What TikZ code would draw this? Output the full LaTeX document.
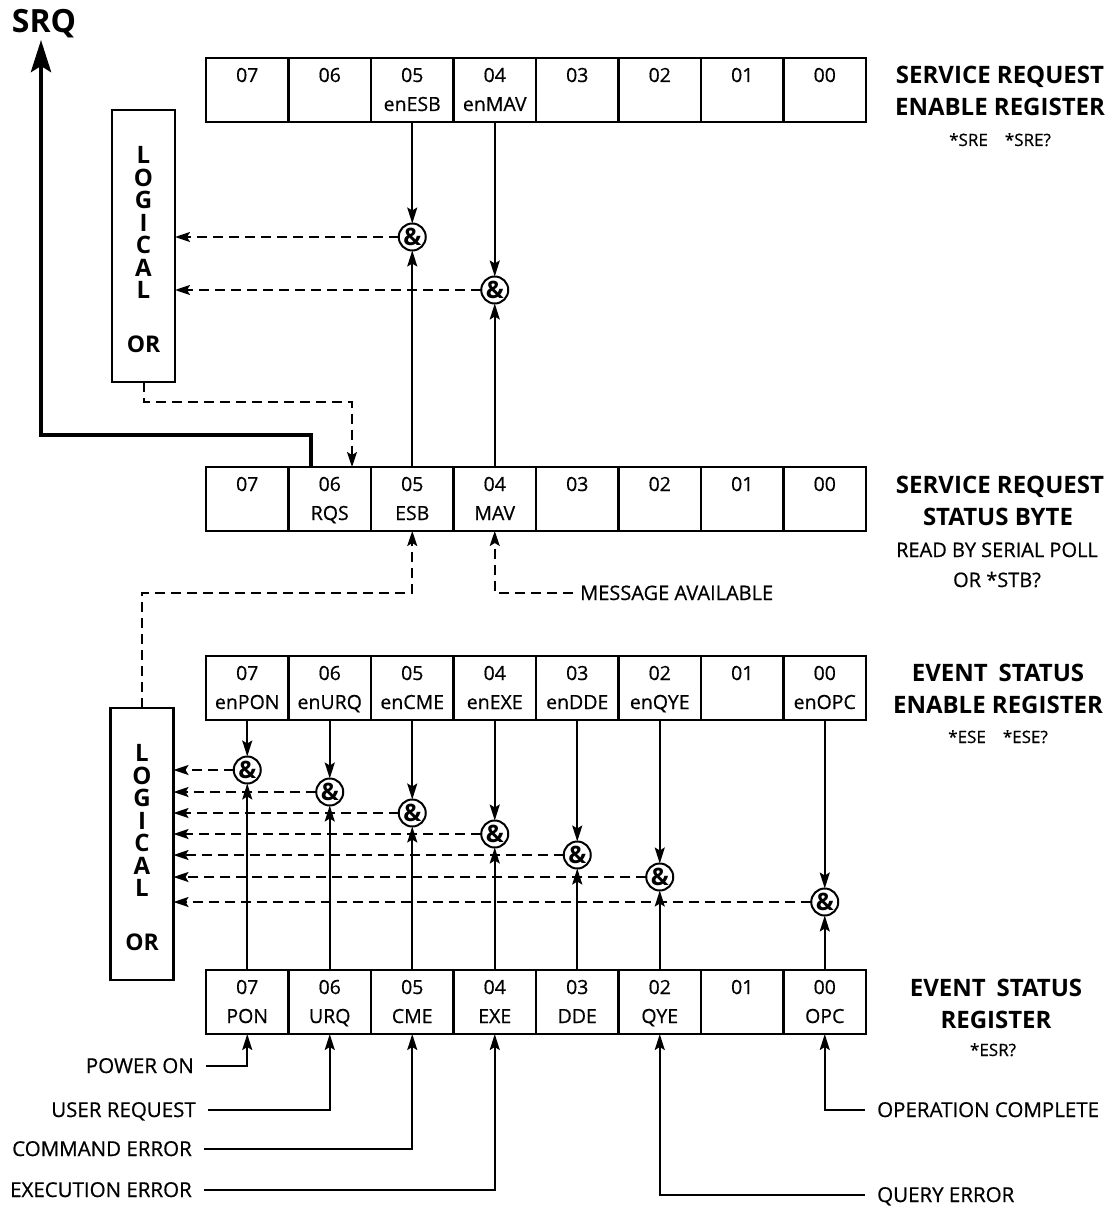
\documentclass[tikz,border=0pt]{standalone}
\usepackage{fontspec}
\setmainfont{Open Sans}[UprightFeatures={FakeBold=0.6}]
\usetikzlibrary{arrows.meta,calc}
\begin{document}
\begin{tikzpicture}[x=1pt,y=-1pt,
  cell/.style={draw,line width=2.3pt,minimum width=82.5pt,minimum height=64pt,inner sep=0pt,outer sep=0pt},
  ctxt/.style={inner sep=0pt,font=\fontsize{19.5}{19.5}\selectfont,text height=14pt,text depth=0pt},
  andg/.style={circle,draw,line width=2pt,minimum size=27pt,inner sep=0pt,outer sep=0pt,font=\bfseries\fontsize{24}{24}\selectfont},
  orbox/.style={draw,line width=2.3pt,minimum width=63pt,minimum height=272pt,inner sep=0pt,outer sep=0pt},
  orletters/.style={inner sep=0pt,align=center,font=\bfseries\fontsize{24}{22.5}\selectfont},
  ortxt/.style={inner sep=0pt,font=\bfseries\fontsize{23}{23}\selectfont},
  title/.style={inner sep=0pt,font=\bfseries\fontsize{24}{24}\selectfont,text height=17pt,text depth=0pt},
  cmd/.style={inner sep=0pt,font=\fontsize{17}{17}\selectfont,text height=12pt,text depth=0pt},
  note/.style={inner sep=0pt,font=\fontsize{20}{20}\selectfont,text height=14pt,text depth=0pt},
  inlbl/.style={inner ysep=0pt,inner xsep=12pt,font=\fontsize{20.5}{20.5}\selectfont,text height=14pt,text depth=0pt},
  sarr/.style={line width=2pt,-{Stealth[length=16pt,width=10pt,inset=3pt]}},
  darr/.style={line width=2pt,dash pattern=on 10pt off 6pt,-{Stealth[length=15pt,width=10pt,inset=3pt]}},
]
\useasboundingbox (0,0) rectangle (1117,1209);

% ---------- registers ----------
\foreach \i/\nm [count=\k from 0] in {7/,6/,5/enESB,4/enMAV,3/,2/,1/,0/}{
  \node[cell] (sre\i) at (247.25+82.5*\k,90) {};
  \node[ctxt] (sren\i) at (247.25+82.5*\k,75) {0\i};
  \node[ctxt] (srel\i) at (247.25+82.5*\k,104) {\nm};
}
\foreach \i/\nm [count=\k from 0] in {7/,6/RQS,5/ESB,4/MAV,3/,2/,1/,0/}{
  \node[cell] (srb\i) at (247.25+82.5*\k,499) {};
  \node[ctxt] (srbn\i) at (247.25+82.5*\k,484) {0\i};
  \node[ctxt] (srbl\i) at (247.25+82.5*\k,513) {\nm};
}
\foreach \i/\nm [count=\k from 0] in {7/enPON,6/enURQ,5/enCME,4/enEXE,3/enDDE,2/enQYE,1/,0/enOPC}{
  \node[cell] (ese\i) at (247.25+82.5*\k,688) {};
  \node[ctxt] (esen\i) at (247.25+82.5*\k,673) {0\i};
  \node[ctxt] (esel\i) at (247.25+82.5*\k,702) {\nm};
}
\foreach \i/\nm [count=\k from 0] in {7/PON,6/URQ,5/CME,4/EXE,3/DDE,2/QYE,1/,0/OPC}{
  \node[cell] (esr\i) at (247.25+82.5*\k,1002) {};
  \node[ctxt] (esrn\i) at (247.25+82.5*\k,987) {0\i};
  \node[ctxt] (esrl\i) at (247.25+82.5*\k,1016) {\nm};
}

% ---------- right-hand titles ----------
\node[title] (t1a) at (1000,75) {SERVICE REQUEST};
\node[title] (t1b) at (1000,107) {ENABLE REGISTER};
\node[cmd]   (t1c) at (1000,140) {*SRE\hspace{1em}*SRE?};
\node[title] (t2a) at (1000,485) {SERVICE REQUEST};
\node[title] (t2b) at (998,517) {STATUS BYTE};
\node[note]  (t2c) at (997,550) {READ BY SERIAL POLL};
\node[note]  (t2d) at (997,580) {OR *STB?};
\node[title] (t3a) at (998,673) {EVENT\hspace{0.45em}STATUS};
\node[title] (t3b) at (998,705) {ENABLE REGISTER};
\node[cmd]   (t3c) at (998,737) {*ESE\hspace{1em}*ESE?};
\node[title] (t4a) at (996,988) {EVENT\hspace{0.45em}STATUS};
\node[title] (t4b) at (996,1020) {REGISTER};
\node[cmd]   (t4c) at (993,1050) {*ESR?};

% ---------- logical OR boxes ----------
\node[orbox] (or1) at (143.5,246) {};
\node[orletters] (or1t) at (143.5,222.5) {L\\O\\G\\I\\C\\A\\L};
\node[ortxt] (or1or) at (143.5,344) {OR};

\node[orbox] (or2) at (142,844) {};
\node[orletters] (or2t) at (142,820.5) {L\\O\\G\\I\\C\\A\\L};
\node[ortxt] (or2or) at (142,942) {OR};

% ---------- SRQ ----------
\node[inner sep=0pt,font=\bfseries\fontsize{32}{32}\selectfont] (srq) at (44,24) {SRQ};
\coordinate (srqtip) at (41,40);
\coordinate (srqbend) at (41,435);
\draw[line width=4.5pt,-{Stealth[length=32pt,width=20pt,inset=6pt]}]
  ($(srb6.north west)+(22.5,0)$) |- (srqbend) -- (srqtip);

% ---------- service request enable gates ----------
\node[andg] (a5) at (412.25,237) {\&};
\node[andg] (a4) at (494.75,290) {\&};
\draw[sarr] (sre5.south) -- (a5.north);
\draw[sarr] (srb5.north) -- (a5.south);
\draw[sarr] (sre4.south) -- (a4.north);
\draw[sarr] (srb4.north) -- (a4.south);
\draw[darr] (a5.west) -- (a5.west -| or1.east);
\draw[darr] (a4.west) -- (a4.west -| or1.east);

% OR1 -> RQS
\draw[darr] (or1.south) -- ++(0,20) -| ($(srb6.north west)+(63.5,0)$);

% OR2 -> ESB
\draw[darr] (or2.north) -- ++(0,-115) -| (srb5.south);

% message available -> MAV
\node[note,anchor=west] (msg) at (580,593) {MESSAGE AVAILABLE};
\draw[darr] ($(msg.west)+(-7,0)$) -| (srb4.south);

% ---------- event status enable gates ----------
\foreach \i/\x/\y in {7/247.25/770,6/329.75/792,5/412.25/813,4/494.75/834,3/577.25/855,2/659.75/877,0/824.75/902}{
  \node[andg] (e\i) at (\x,\y) {\&};
  \draw[sarr] (ese\i.south) -- (e\i.north);
  \draw[sarr] (esr\i.north) -- (e\i.south);
  \draw[darr] (e\i.west) -- (e\i.west -| or2.east);
}

% ---------- event inputs ----------
\node[inlbl,anchor=east] (pon) at (206,1066) {POWER ON};
\node[inlbl,anchor=east] (urq) at (208,1110) {USER REQUEST};
\node[inlbl,anchor=east] (cme) at (204,1149) {COMMAND ERROR};
\node[inlbl,anchor=east] (exe) at (204,1190) {EXECUTION ERROR};
\node[inlbl,anchor=west] (opc) at (865,1110) {OPERATION COMPLETE};
\node[inlbl,anchor=west] (qye) at (865,1195) {QUERY ERROR};
\draw[sarr] (pon.east) -| (esr7.south);
\draw[sarr] (urq.east) -| (esr6.south);
\draw[sarr] (cme.east) -| (esr5.south);
\draw[sarr] (exe.east) -| (esr4.south);
\draw[sarr] (opc.west) -| (esr0.south);
\draw[sarr] (qye.west) -| (esr2.south);
\end{tikzpicture}
\end{document}
